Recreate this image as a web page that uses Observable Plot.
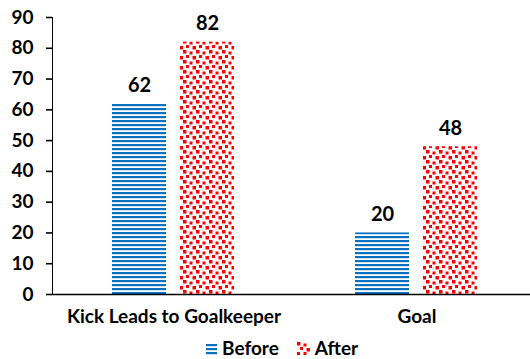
<!DOCTYPE html>
<html>
<head>
<meta charset="utf-8">
<script src="https://cdn.jsdelivr.net/npm/d3@7"></script>
<script src="https://cdn.jsdelivr.net/npm/@observablehq/plot@0.6"></script>
<style>
  html, body { margin: 0; padding: 0; background: #fff; }
  #wrap { position: relative; width: 530px; height: 359px; }
  #chart svg { display: block; }
  #legend { position: absolute; left: 206px; top: 338px; display: flex; align-items: center;
            font: bold 19px/20px Lato, sans-serif; color: #000; }
  #legend .item { display: flex; align-items: center; margin-right: 18px; }
  #legend svg { margin-right: 5px; }
</style>
</head>
<body>
<div id="wrap">
  <div id="chart"></div>
  <div id="legend"></div>
</div>
<script>
// Outcome counts for each play category, before and after
const categories = ["Kick Leads to Goalkeeper", "Goal"];
const seriesNames = ["Before", "After"];
const beforeValues = [62, 20];
const afterValues = [82, 48];
const yTicks = [0, 10, 20, 30, 40, 50, 60, 70, 80, 90];

const blue = "#0a70c0";
const red = "#ff0000";

const rows = categories.flatMap((c, i) => [
  {category: c, series: seriesNames[0], value: beforeValues[i]},
  {category: c, series: seriesNames[1], value: afterValues[i]}
]);

// Pattern fills: horizontal stripes and confetti squares
function addPatterns(svg) {
  const defs = svg.insert("defs", ":first-child");
  const s = defs.append("pattern").attr("id", "stripes")
    .attr("patternUnits", "userSpaceOnUse").attr("width", 8).attr("height", 4);
  s.append("rect").attr("width", 8).attr("height", 4).attr("fill", "#fff");
  s.append("rect").attr("width", 8).attr("height", 2.2).attr("fill", blue);

  const c = defs.append("pattern").attr("id", "confetti")
    .attr("patternUnits", "userSpaceOnUse").attr("width", 13).attr("height", 10);
  c.append("rect").attr("width", 13).attr("height", 10).attr("fill", "#fff");
  [[0, 0, 3.5], [6.5, 1.5, 3], [3, 5, 3], [9.5, 6, 3.5]].forEach(([x, y, w]) =>
    c.append("rect").attr("x", x).attr("y", y).attr("width", w).attr("height", w).attr("fill", red));
}

const fills = {Before: "url(#stripes)", After: "url(#confetti)"};

const chart = Plot.plot({
  width: 530,
  height: 335,
  marginLeft: 51,
  marginRight: -8,
  marginTop: 17,
  marginBottom: 41,
  style: {fontFamily: "Lato, sans-serif", fontWeight: "bold", fontSize: "19px", color: "#000", background: "#fff"},
  fx: {domain: categories, padding: 0, label: null, tickSize: 0, tickPadding: 15, axis: "bottom"},
  x: {domain: seriesNames, axis: null, paddingInner: 0.203, paddingOuter: 0.866},
  y: {domain: [0, 90], ticks: yTicks, tickSize: 6, tickPadding: 13, label: null, line: true},
  marks: [
    Plot.barY(rows, {fx: "category", x: "series", y: "value", fill: d => fills[d.series]}),
    Plot.text(rows, {fx: "category", x: "series", y: "value", text: d => String(d.value),
      dy: -12, lineAnchor: "bottom", fontSize: 20, fontWeight: "bold", fill: "#000"}),
    Plot.ruleY([0], {stroke: "#000", strokeWidth: 1.6})
  ]
});

const svg = d3.select(chart);
addPatterns(svg);
svg.selectAll("[aria-label='y-axis'] path, [aria-label='y-axis tick'] path").attr("stroke-width", 1.6);
document.getElementById("chart").appendChild(chart);

// Legend below the plot
const legend = d3.select("#legend");
seriesNames.forEach((name, i) => {
  const item = legend.append("div").attr("class", "item");
  const sw = item.append("svg").attr("width", i === 0 ? 11 : 13).attr("height", 13);
  if (i === 0) {
    [2, 6, 10].forEach(y => sw.append("rect").attr("x", 0).attr("y", y).attr("width", 11).attr("height", 2.2).attr("fill", blue));
  } else {
    [[0, 0, 3.5], [6.5, 1.5, 3], [3, 5, 3], [9.5, 6, 3.5], [0, 10, 3], [6.5, 10, 3]].forEach(([x, y, w]) =>
      sw.append("rect").attr("x", x).attr("y", y).attr("width", w).attr("height", w).attr("fill", red));
  }
  item.append("span").text(name);
});
</script>
</body>
</html>
